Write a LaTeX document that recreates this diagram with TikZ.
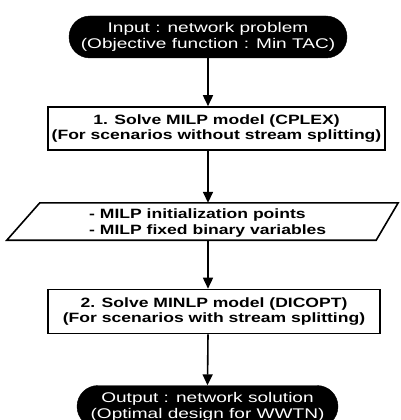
\documentclass[tikz,border=0pt]{standalone}
\usepackage{fontspec}
\setmainfont{Liberation Sans}
\newfontfamily\widebold[FakeStretch=1.3]{Liberation Sans Bold}
\newfontfamily\wideregular[FakeStretch=1.36]{Liberation Sans}
\usetikzlibrary{arrows.meta,shapes.misc}
\begin{document}
\begin{tikzpicture}[x=1pt,y=-1pt,
  terminal/.style={rounded rectangle, fill=black, draw=black, text=white,
    inner sep=0pt, align=center, font=\wideregular\fontsize{14}{16}\selectfont},
  process/.style={rectangle, draw=black, line width=1.6pt, inner sep=0pt,
    align=center, font=\widebold\fontsize{13.5}{15.5}\selectfont},
  flow/.style={line width=1.6pt, -{Triangle[length=11pt,width=10pt]}}]
\useasboundingbox (0,0) rectangle (401,420);
\fill[white] (0,0) rectangle (401,420);

% start and end terminals
\node[terminal, minimum width=278pt, minimum height=42pt] (start) at (208,37)
  {Input : network problem\\(Objective function : Min TAC)};
\node[terminal, minimum width=261pt, minimum height=42pt] (finish) at (207.5,406.5)
  {Output : network solution\\(Optimal design for WWTN)};

% processing steps
\node[process, minimum width=337pt, minimum height=43pt] (milp) at (216.5,128.5)
  {1. Solve MILP model (CPLEX)\\(For scenarios without stream splitting)};
\node[process, minimum width=332pt, minimum height=44pt] (minlp) at (214,311.5)
  {2. Solve MINLP model (DICOPT)\\(For scenarios with stream splitting)};

% data passed between the two models
\node[inner sep=0pt, minimum width=391pt, minimum height=37pt] (data) at (202.5,221.5) {};
\draw[line width=1.6pt, line join=miter]
  (data.south west) -- ([xshift=33pt]data.north west) -- (data.north east)
  -- ([xshift=-22pt]data.south east) -- cycle;
\node[anchor=west, align=left, inner sep=0pt,
  font=\widebold\fontsize{13.5}{16}\selectfont] (datatext) at (89,223.5)
  {- MILP initialization points\\- MILP fixed binary variables};

% connectors
\draw[flow] (start.south) -- (start.south |- milp.north);
\draw[flow] (start.south |- milp.south) -- (start.south |- data.north);
\draw[flow] (start.south |- data.south) -- (start.south |- minlp.north);
\draw[flow] (start.south |- minlp.south) -- (finish.north);
\end{tikzpicture}
\end{document}
